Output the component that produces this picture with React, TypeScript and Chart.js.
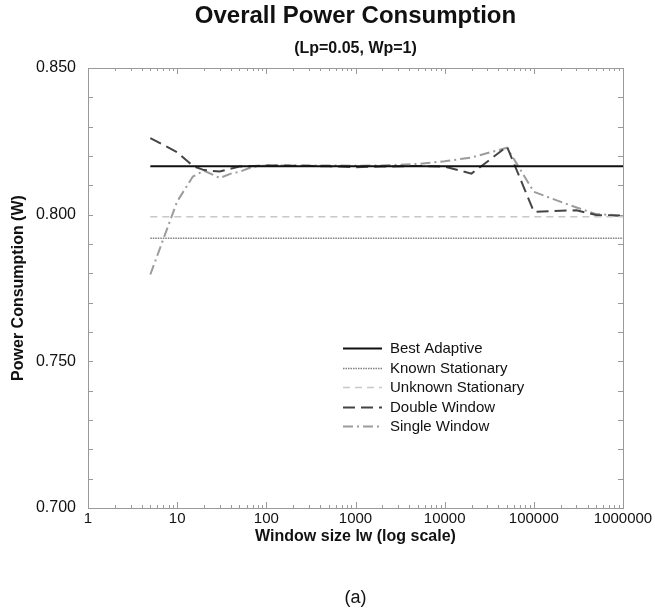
import React, { useEffect, useRef } from 'react';
import { Chart, registerables } from 'chart.js';

Chart.register(...registerables);

const FONT = '"Liberation Sans", Arial, Helvetica, sans-serif';

const TITLE = 'Overall Power Consumption';
const SUBTITLE = '(Lp=0.05, Wp=1)';
const CAPTION = '(a)';
const X_TITLE = 'Window size lw (log scale)';
const Y_TITLE = 'Power Consumption (W)';

const seriesLabels = ['Best Adaptive', 'Known Stationary', 'Unknown Stationary', 'Double Window', 'Single Window'];

// constant reference lines
const constantX = [5, 1000000];
const bestAdaptiveY = [0.8165, 0.8165];
const knownStationaryY = [0.792, 0.792];
const unknownStationaryY = [0.7993, 0.7993];

const doubleWindowX = [5, 10, 15, 20, 30, 50, 100, 200, 500, 1000, 2000, 5000, 10000, 20000, 50000, 100000, 300000, 500000, 1000000];
const doubleWindowY = [0.8261, 0.8213, 0.8166, 0.8152, 0.8147, 0.8164, 0.8168, 0.8167, 0.8165, 0.8162, 0.8164, 0.8166, 0.8164, 0.8140, 0.8232, 0.8010, 0.8015, 0.7999, 0.7996];

const singleWindowX = [5, 10, 15, 20, 30, 40, 50, 70, 100, 200, 500, 1000, 2000, 5000, 10000, 20000, 50000, 100000, 250000, 500000, 1000000];
const singleWindowY = [0.7796, 0.8045, 0.8130, 0.8150, 0.8125, 0.8140, 0.8146, 0.8163, 0.8168, 0.8168, 0.8168, 0.8167, 0.8168, 0.8173, 0.8182, 0.8195, 0.8228, 0.8078, 0.8033, 0.8002, 0.7997];

const xMajorTicks = [1, 10, 100, 1000, 10000, 100000, 1000000];
const yTickValues = [0.7, 0.75, 0.8, 0.85];

const zip = (xs: number[], ys: number[]) => xs.map((x, i) => ({ x, y: ys[i] }));

const framePlugin = {
  id: 'frameTicksLegend',
  beforeDatasetsDraw(chart: any) {
    const { ctx, chartArea } = chart;
    const { left, right, top, bottom } = chartArea;
    const xs = chart.scales.x;
    const ys = chart.scales.y;
    ctx.save();
    ctx.strokeStyle = '#9a9a9a';
    ctx.lineWidth = 1;
    ctx.strokeRect(Math.round(left) + 0.5, Math.round(top) + 0.5, Math.round(right - left), Math.round(bottom - top));
    ctx.beginPath();
    for (let k = 0; k < 6; k++) {
      for (let m = 1; m <= 9; m++) {
        const v = m * Math.pow(10, k);
        const px = Math.round(xs.getPixelForValue(v)) + 0.5;
        const len = m === 1 ? 6 : 3;
        ctx.moveTo(px, top);
        ctx.lineTo(px, top + len);
        ctx.moveTo(px, bottom);
        ctx.lineTo(px, bottom - len);
      }
    }
    for (let i = 0; i <= 15; i++) {
      const v = 0.7 + i * 0.01;
      const py = Math.round(ys.getPixelForValue(v)) + 0.5;
      ctx.moveTo(left, py);
      ctx.lineTo(left + 5, py);
      ctx.moveTo(right, py);
      ctx.lineTo(right - 5, py);
    }
    ctx.stroke();
    ctx.restore();
  },
  afterDraw(chart: any) {
    const { ctx, chartArea } = chart;
    ctx.save();
    // legend
    const lx0 = 343;
    const lx1 = 382;
    const tx = 390;
    const y0 = 348;
    const dy = 19.5;
    ctx.font = '15px ' + FONT;
    ctx.textBaseline = 'middle';
    ctx.textAlign = 'left';
    chart.data.datasets.forEach((ds: any, i: number) => {
      const y = Math.round(y0 + i * dy) + 0.5;
      ctx.save();
      ctx.strokeStyle = ds.borderColor;
      ctx.lineWidth = ds.borderWidth;
      ctx.setLineDash(ds.borderDash || []);
      ctx.beginPath();
      ctx.moveTo(lx0, y);
      ctx.lineTo(lx1, y);
      ctx.stroke();
      ctx.restore();
      ctx.fillStyle = '#111';
      ctx.fillText(ds.label, tx, y);
    });
    // caption
    ctx.font = '18px ' + FONT;
    ctx.textAlign = 'center';
    ctx.fillStyle = '#111';
    ctx.fillText(CAPTION, (chartArea.left + chartArea.right) / 2, 598);
    ctx.restore();
  },
};

export default function App() {
  const ref = useRef<HTMLCanvasElement>(null);
  useEffect(() => {
    if (!ref.current) return;
    Chart.defaults.font.family = FONT;
    Chart.defaults.color = '#111';
    const chart = new Chart(ref.current, {
      type: 'line',
      data: {
        datasets: [
          {
            label: seriesLabels[0],
            data: zip(constantX, bestAdaptiveY),
            borderColor: '#111111',
            borderWidth: 2,
            borderDash: [],
          },
          {
            label: seriesLabels[1],
            data: zip(constantX, knownStationaryY),
            borderColor: '#808080',
            borderWidth: 1.5,
            borderDash: [1.5, 1],
          },
          {
            label: seriesLabels[2],
            data: zip(constantX, unknownStationaryY),
            borderColor: '#c8c8c8',
            borderWidth: 1.5,
            borderDash: [7, 5],
          },
          {
            label: seriesLabels[3],
            data: zip(doubleWindowX, doubleWindowY),
            borderColor: '#454545',
            borderWidth: 2,
            borderDash: [12, 6],
          },
          {
            label: seriesLabels[4],
            data: zip(singleWindowX, singleWindowY),
            borderColor: '#9c9c9c',
            borderWidth: 2,
            borderDash: [10, 4, 2, 4],
          },
        ],
      },
      options: {
        responsive: false,
        animation: false,
        devicePixelRatio: 1,
        layout: { padding: { top: 0, left: 0, right: 32, bottom: 65 } },
        elements: { point: { radius: 0 }, line: { tension: 0 } },
        plugins: {
          legend: { display: false },
          tooltip: { enabled: false },
          title: {
            display: true,
            text: TITLE,
            fullSize: false,
            font: { size: 24, weight: 'bold', family: FONT },
            color: '#111',
            padding: { top: 2, bottom: 0 },
          },
          subtitle: {
            display: true,
            text: SUBTITLE,
            fullSize: false,
            font: { size: 16, weight: 'bold', family: FONT },
            color: '#111',
            padding: { top: 8.6, bottom: 9.4 },
          },
        },
        scales: {
          x: {
            type: 'logarithmic',
            min: 1,
            max: 1000000,
            afterBuildTicks: (s: any) => {
              s.ticks = xMajorTicks.map((v) => ({ value: v, major: true }));
            },
            afterFit: (s: any) => {
              s.height = 40;
            },
            grid: { display: false, drawTicks: false },
            border: { display: false },
            ticks: {
              autoSkip: false,
              maxRotation: 0,
              padding: 2,
              font: { size: 15, family: FONT },
              color: '#111',
              callback: (v: any) => String(v),
            },
            title: {
              display: true,
              text: X_TITLE,
              font: { size: 16, weight: 'bold', family: FONT },
              color: '#111',
              padding: { top: 0, bottom: 1.5 },
            },
          },
          y: {
            type: 'linear',
            min: 0.7,
            max: 0.85,
            afterBuildTicks: (s: any) => {
              s.ticks = yTickValues.map((v) => ({ value: v }));
            },
            afterFit: (s: any) => {
              s.width = 88;
            },
            grid: { display: false, drawTicks: false },
            border: { display: false },
            ticks: {
              padding: 12,
              font: { size: 16, family: FONT },
              color: '#111',
              callback: (v: any) => Number(v).toFixed(3),
            },
            title: {
              display: true,
              text: Y_TITLE,
              font: { size: 16, weight: 'bold', family: FONT },
              color: '#111',
              padding: { top: 9, bottom: 0 },
            },
          },
        },
      },
      plugins: [framePlugin],
    } as any);
    return () => chart.destroy();
  }, []);
  return (
    <div style={{ position: 'absolute', left: 0, top: 0, width: 655, height: 613, background: '#fff' }}>
      <canvas ref={ref} width={655} height={613} />
    </div>
  );
}
